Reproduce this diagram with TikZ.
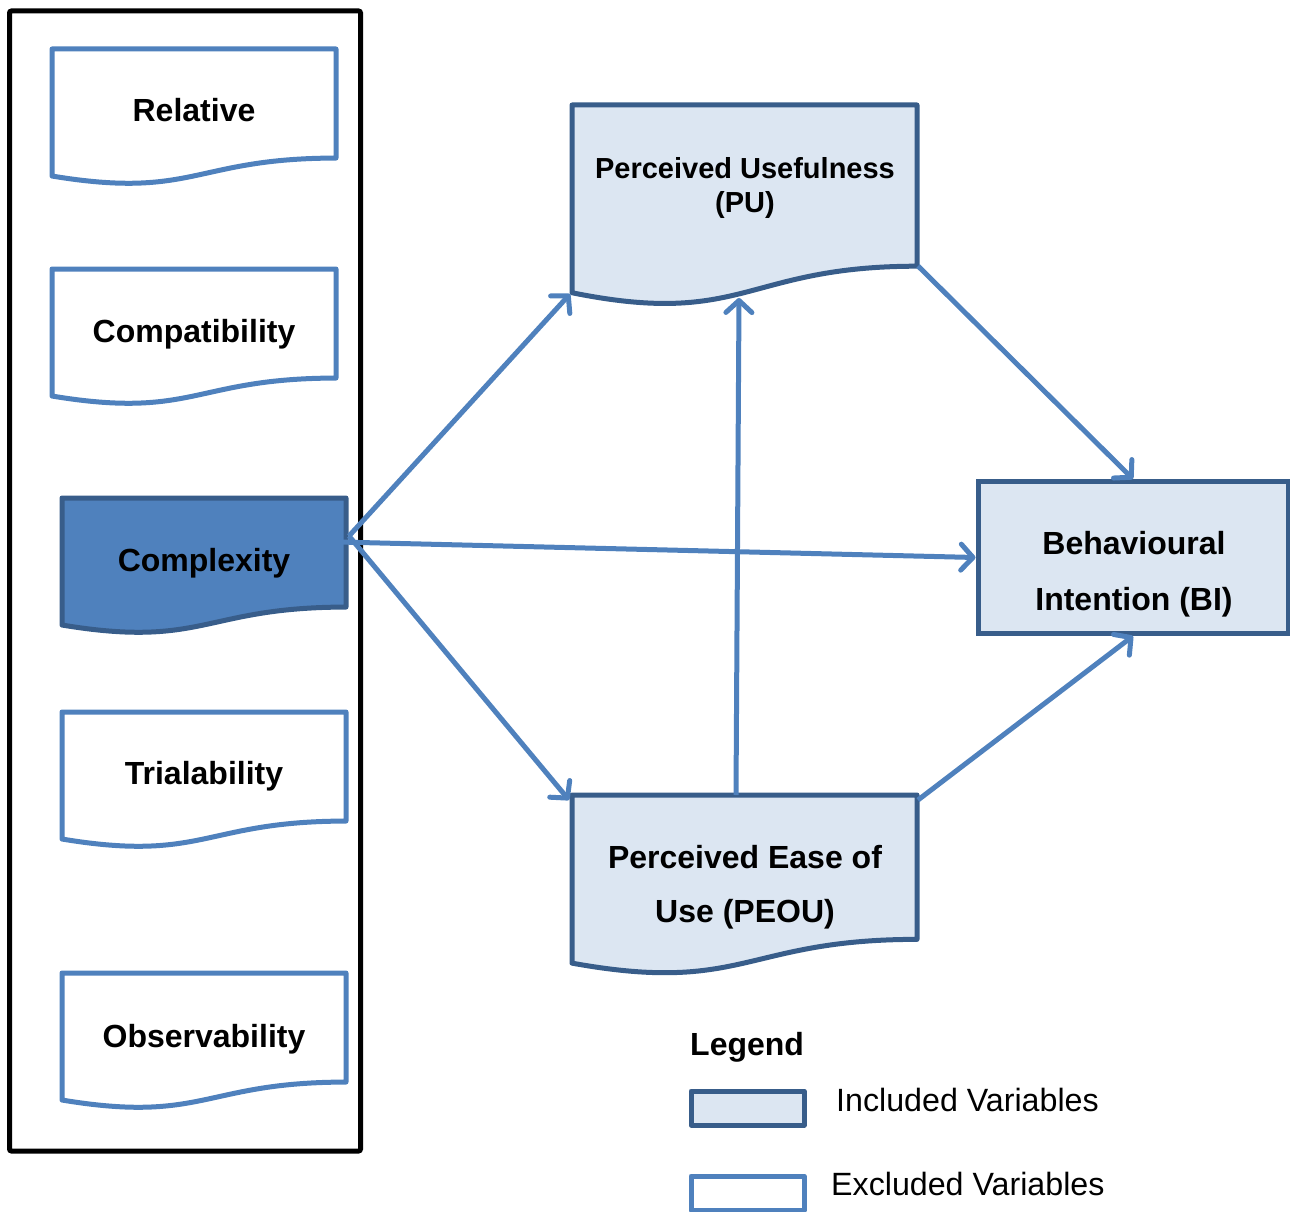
\documentclass[tikz,border=0pt]{standalone}
\usepackage{fontspec}
\setmainfont{Liberation Sans}
\usetikzlibrary{arrows.meta}

\definecolor{exbord}{HTML}{4F81BD}
\definecolor{inbord}{HTML}{385D8A}
\definecolor{infill}{HTML}{DCE6F2}
\definecolor{cxfill}{HTML}{4F81BD}

% document-shaped box: style, left x, top y, width, height
\newcommand\docbox[5]{%
  \draw[#1] (#2,#3) -- ({#2+#4},#3) -- ({#2+#4},{#3+0.802*#5})
    .. controls ({#2+0.5*#4},{#3+0.802*#5}) and ({#2+0.5*#4},{#3+1.1075*#5})
    .. (#2,{#3+0.934*#5}) -- cycle;}

\tikzset{
  excluded/.style={draw=exbord, line width=5pt, line join=round, fill=white},
  included/.style={draw=inbord, line width=5pt, line join=round, fill=infill},
  keyvar/.style={draw=inbord, line width=5pt, line join=round, fill=cxfill},
  lbl/.style={font=\bfseries\fontsize{32}{38}\selectfont, anchor=base, inner sep=0pt},
  lblsmall/.style={font=\bfseries\fontsize{29}{34}\selectfont, anchor=base, inner sep=0pt},
  plain/.style={font=\fontsize{32.2}{38}\selectfont, anchor=base west, inner sep=0pt},
  link/.style={draw=exbord, line width=5pt,
    -{Straight Barb[length=12pt,width=26pt,round]}}
}

\begin{document}
\begin{tikzpicture}[x=1pt,y=-1pt]
\useasboundingbox (0,0) rectangle (1290,1212);

% frame around the innovation attributes
\draw[line width=5pt, rounded corners=2pt] (9.5,11) rectangle (360.5,1151);

% innovation attributes
\docbox{excluded}{52}{49}{284}{136}
\node[lbl] (rel) at (194,122) {Relative};
\docbox{excluded}{52}{269}{284}{136}
\node[lbl] (comp) at (194,342) {Compatibility};
\docbox{keyvar}{62}{498}{284}{136}
\node[lbl] (cx) at (204,571) {Complexity};
\docbox{excluded}{62}{712}{284}{136}
\node[lbl] (tri) at (204,784) {Trialability};
\docbox{excluded}{62}{973}{284}{136}
\node[lbl] (obs) at (204,1047) {Observability};

% TAM constructs
\docbox{included}{572}{105}{345}{201}
\node[lblsmall] (pu) at (745,178) {Perceived Usefulness};
\node[lblsmall] (pu2) at (745,212) {(PU)};
\docbox{included}{572}{795}{345}{180}
\node[lbl] (peou) at (745,868) {Perceived Ease of};
\node[lbl] (peou2) at (745,922) {Use (PEOU)};
\node[draw=inbord, fill=infill, line width=5pt, minimum width=310pt,
      minimum height=152pt, inner sep=0pt] (bi) at (1133,557.5) {};
\node[lbl] (bi1) at (1134,554) {Behavioural};
\node[lbl] (bi2) at (1134,610) {Intention (BI)};

% connector end points on the document shapes
\coordinate (cx-hub) at (349,536);
\coordinate (cx-tail) at (298,541);
\coordinate (pu-sw) at (570,294);
\coordinate (pu-s) at (739,298);
\coordinate (pu-se) at (918,266);
\coordinate (peou-nw) at (569,800);
\coordinate (peou-n) at (736,795);
\coordinate (peou-ne) at (918,800);

% relations
\draw[link] (cx-hub) -- (pu-sw);
\draw[link] (cx-tail) -- (bi.west);
\draw[link] (cx-hub) -- (peou-nw);
\draw[link] (peou-n) -- (pu-s);
\draw[link] (pu-se) -- (bi.north);
\draw[link] (peou-ne) -- (bi.south);

% legend
\node[font=\bfseries\fontsize{32}{38}\selectfont, anchor=base west, inner sep=0pt] (leg) at (690,1055) {Legend};
\draw[included] (691,1091) rectangle (804,1125);
\node[plain] (inc) at (836,1111) {Included Variables};
\draw[excluded] (691,1176) rectangle (804,1210);
\node[plain] (exc) at (831,1195) {Excluded Variables};
\end{tikzpicture}
\end{document}
